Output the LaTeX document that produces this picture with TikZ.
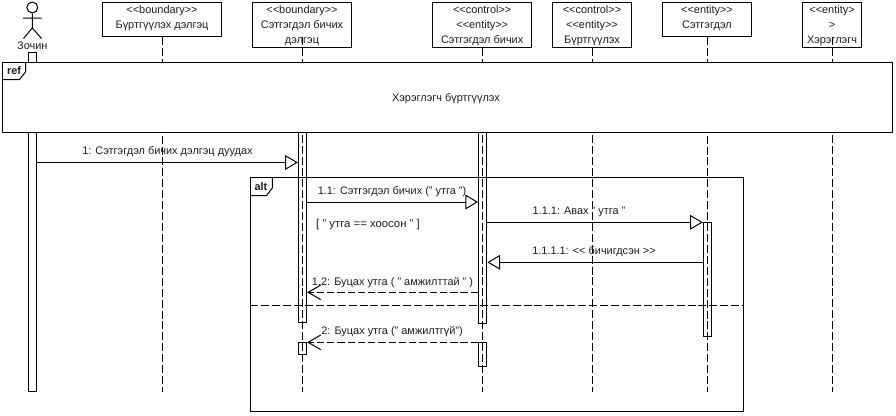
\documentclass[tikz,border=0pt]{standalone}
\usepackage{fontspec}
\setmainfont{Liberation Sans}
\usetikzlibrary{arrows.meta}
\definecolor{txt}{HTML}{1E1E1E}
\newcommand{\upl}[1]{\raisebox{-1pt}[0pt][0pt]{#1}}
\newcommand{\dnl}[1]{\raisebox{-2.6pt}[0pt][0pt]{#1}}
\tikzset{
  every node/.style={font=\fontsize{8.2pt}{11.25pt}\selectfont,text=txt},
  obj/.style={draw=black,line width=.75pt,align=center,inner sep=0pt,fill=white},
  life/.style={line width=.75pt,dash pattern=on 6pt off 2.2pt},
  lifev/.style={life,xshift=-.4pt},
  actv/.style={draw=black,line width=.75pt,inner sep=0pt,minimum width=6.2pt},
  framebox/.style={draw=black,line width=.75pt,inner sep=0pt},
  tag/.style={line width=.75pt},
  tagtext/.style={font=\fontsize{8.2pt}{10pt}\selectfont\bfseries},
  msg/.style={line width=.75pt,-{Triangle[open,length=9.5pt,width=11pt,line width=.75pt]}},
  ret/.style={line width=.75pt,dash pattern=on 5.5pt off 2.2pt,-{Straight Barb[length=9.5pt,width=11pt,line width=.75pt]}},
  lbl/.style={inner sep=0pt},
}
\begin{document}
\begin{tikzpicture}[x=.75pt,y=-.75pt]
\useasboundingbox (0,0) rectangle (896,415);
% objects
\node[obj,minimum width=89.25pt,minimum height=25.5pt] (b1) at (162,19.7) {\upl{<{}<boundary>{}>}\\\upl{Бүртгүүлэх дэлгэц}};
\node[obj,minimum width=74.25pt,minimum height=33.5pt] (b2) at (302,25) {\dnl{<{}<boundary>{}>}\\\dnl{Сэтгэгдэл бичих}\\\dnl{дэлгэц}};
\node[obj,minimum width=74.25pt,minimum height=33.5pt] (b3) at (482.2,25) {\dnl{<{}<control>{}>}\\\dnl{<{}<entity>{}>}\\\dnl{Сэтгэгдэл бичих}};
\node[obj,minimum width=59.5pt,minimum height=33.5pt] (b4) at (592,25) {\dnl{<{}<control>{}>}\\\dnl{<{}<entity>{}>}\\\dnl{Бүртгүүлэх}};
\node[obj,minimum width=67pt,minimum height=25.5pt] (b5) at (707,19.7) {\upl{<{}<entity>{}>}\\\upl{Сэтгэгдэл}};
\node[obj,minimum width=44.5pt,minimum height=33.5pt] (b6) at (832,25) {\dnl{<{}<entity>}\\\dnl{>}\\\dnl{Хэрэглэгч}};
% lifeline ends
\coordinate (lifeEnd) at (0,392);
\coordinate (y37) at (0,37);
% actor
\node[draw=black,line width=.75pt,circle,inner sep=0pt,minimum size=8.2pt] (head) at (32.3,7.5) {};
\coordinate (hip) at (32.3,28);
\coordinate (armL) at (23,18);
\coordinate (armR) at (41.7,18);
\coordinate (legL) at (23.5,38.5);
\coordinate (legR) at (41.5,38.5);
\draw[line width=.75pt] (head.south) -- (hip) (armL) -- (armR) (legL) -- (hip) -- (legR);
\node[lbl] (actor) at (32.3,45.5) {Зочин};
% lifelines
\draw[lifev] (b1.south) -- (b1.south |- lifeEnd);
\draw[lifev] (b2.south |- y37) -- (b2.south |- lifeEnd);
\draw[lifev] (b3.south) -- (b3.south |- lifeEnd);
\draw[lifev] (b4.south) -- (b4.south |- lifeEnd);
\draw[lifev] (b5.south) -- (b5.south |- lifeEnd);
\draw[lifev] (b6.south |- y37) -- (b6.south |- lifeEnd);
% activations
\node[actv,minimum height=253.9pt] (a0) at (32.5,221.8) {};
\node[actv,minimum height=144pt] (a2) at (302.5,226.7) {};
\node[actv,minimum height=9pt] (a2b) at (302.5,348.3) {};
\node[actv,minimum height=145pt] (a3) at (482.7,227) {};
\node[actv,minimum height=18pt] (a3b) at (482.7,354.3) {};
\node[actv,minimum height=86pt] (a5) at (707.5,279.5) {};
% ref frame
\node[framebox,fill=white,minimum width=668pt,minimum height=52.6pt] (ref) at (447.6,97.2) {};
\node[lbl] (reflabel) at (446,98.5) {Хэрэглэгч бүртгүүлэх};
\coordinate (refA) at (25.5,62);
\coordinate (refB) at (25.5,72);
\coordinate (refC) at (19.5,79.5);
\coordinate (refD) at (2.5,79.5);
\draw[tag] (refA) -- (refB) -- (refC) -- (refD);
\node[lbl,tagtext] (reftag) at (14,71) {ref};
% alt frame
\node[framebox,minimum width=369.5pt,minimum height=175pt] (alt) at (497,294.5) {};
\coordinate (altA) at (272.3,178);
\coordinate (altB) at (272.3,188);
\coordinate (altC) at (266.5,195.7);
\coordinate (altD) at (250.5,195.7);
\draw[tag] (altA) -- (altB) -- (altC) -- (altD);
\node[lbl,tagtext] (alttag) at (261,187) {alt};
\coordinate (ySep) at (0,305.3);
\draw[life] (alt.west |- ySep) -- (alt.east |- ySep);
% messages
\coordinate (y1) at (0,162.5);
\coordinate (y2) at (0,202);
\coordinate (y3) at (0,222.3);
\coordinate (y4) at (0,262.3);
\coordinate (y5) at (0,292.3);
\coordinate (y6) at (0,342.3);
\draw[msg] (a0.east |- y1) -- (a2.west |- y1);
\draw[msg] (a2.east |- y2) -- (a3.west |- y2);
\draw[msg] (a3.east |- y3) -- (a5.west |- y3);
\draw[msg] (a5.west |- y4) -- (a3.east |- y4);
\draw[ret] (a3.west |- y5) -- (a2.east |- y5);
\draw[ret] (a3.west |- y6) -- (a2.east |- y6);
% labels
\node[lbl] (m1) at (167.5,151.5) {1: Сэтгэгдэл бичих дэлгэц дуудах};
\node[lbl] (m2) at (392,191.5) {1.1: Сэтгэгдэл бичих (" утга ")};
\node[lbl,font=\fontsize{8.5pt}{11pt}\selectfont] (guard) at (368,224.5) {[ " утга == хоосон " ]};
\node[lbl] (m3) at (579,211.5) {1.1.1: Авах " утга "};
\node[lbl] (m4) at (594,251.5) {1.1.1.1: <{}< бичигдсэн >{}>};
\node[lbl] (m5) at (392.5,282.5) {1.2: Буцах утга ( " амжилттай " )};
\node[lbl] (m6) at (392,331.5) {2: Буцах утга (" амжилтгүй")};
\end{tikzpicture}
\end{document}
